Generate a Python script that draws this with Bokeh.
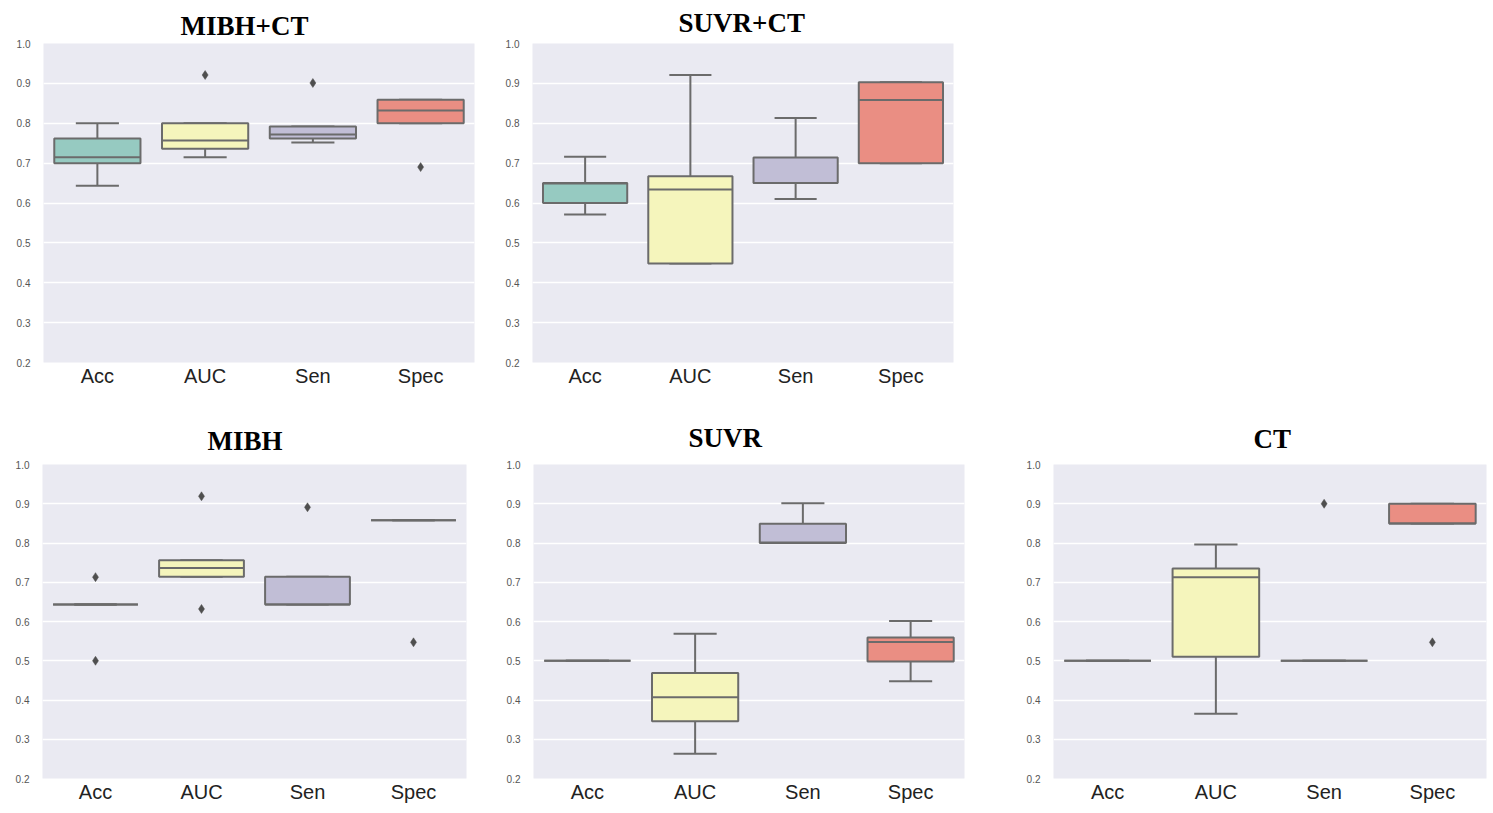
from bokeh.plotting import figure
from bokeh.models import Range1d, FactorRange, FixedTicker, ColumnDataSource, Title
from bokeh.transform import dodge
from bokeh.layouts import column, row
from bokeh.embed import file_html
from bokeh.resources import INLINE

categories = ["Acc", "AUC", "Sen", "Spec"]
box_colors = ["#96CAC1", "#F5F5BC", "#C1BED6", "#EA8E83"]
y_ticks = [0.2, 0.3, 0.4, 0.5, 0.6, 0.7, 0.8, 0.9, 1.0]

# MIBH+CT
mibhct_low = [0.643, 0.715, 0.752, 0.800]
mibhct_q1 = [0.700, 0.736, 0.762, 0.800]
mibhct_med = [0.715, 0.757, 0.772, 0.832]
mibhct_q3 = [0.762, 0.800, 0.792, 0.859]
mibhct_high = [0.800, 0.800, 0.792, 0.859]
mibhct_out_cat = ["AUC", "Sen", "Spec"]
mibhct_out_val = [0.921, 0.901, 0.690]

# SUVR+CT
suvrct_low = [0.571, 0.448, 0.610, 0.700]
suvrct_q1 = [0.600, 0.448, 0.650, 0.700]
suvrct_med = [0.649, 0.634, 0.650, 0.858]
suvrct_q3 = [0.650, 0.667, 0.714, 0.903]
suvrct_high = [0.716, 0.921, 0.813, 0.903]
suvrct_out_cat = []
suvrct_out_val = []

# MIBH
mibh_low = [0.643, 0.714, 0.643, 0.858]
mibh_q1 = [0.643, 0.714, 0.643, 0.858]
mibh_med = [0.643, 0.736, 0.643, 0.858]
mibh_q3 = [0.643, 0.756, 0.714, 0.858]
mibh_high = [0.643, 0.756, 0.714, 0.858]
mibh_out_cat = ["Acc", "Acc", "AUC", "AUC", "Sen", "Spec"]
mibh_out_val = [0.713, 0.500, 0.919, 0.632, 0.891, 0.547]

# SUVR
suvr_low = [0.500, 0.263, 0.800, 0.448]
suvr_q1 = [0.500, 0.346, 0.800, 0.498]
suvr_med = [0.500, 0.407, 0.801, 0.548]
suvr_q3 = [0.500, 0.469, 0.849, 0.559]
suvr_high = [0.500, 0.569, 0.901, 0.601]
suvr_out_cat = []
suvr_out_val = []

# CT
ct_low = [0.500, 0.365, 0.500, 0.850]
ct_q1 = [0.500, 0.510, 0.500, 0.850]
ct_med = [0.500, 0.713, 0.500, 0.850]
ct_q3 = [0.500, 0.735, 0.500, 0.900]
ct_high = [0.500, 0.796, 0.500, 0.900]
ct_out_cat = ["Sen", "Spec"]
ct_out_val = [0.900, 0.547]

LINE = "#6b6b6b"


def make_panel(title, low, q1, med, q3, high, out_cat, out_val,
               width, height, bl, br, bt, bb, title_offset, title_standoff):
    p = figure(x_range=FactorRange(factors=categories, range_padding=0),
               y_range=Range1d(0.2, 1.0),
               width=width, height=height,
               min_border_left=bl, min_border_right=br,
               min_border_top=bt, min_border_bottom=bb,
               output_backend="svg", toolbar_location=None)
    p.background_fill_color = "#EAEAF2"
    p.border_fill_color = "white"
    p.outline_line_color = None
    p.xgrid.grid_line_color = None
    p.ygrid.grid_line_color = "white"
    p.ygrid.grid_line_width = 1.3
    p.yaxis.ticker = FixedTicker(ticks=y_ticks)
    p.yaxis.major_label_overrides = {t: "%.1f" % t for t in y_ticks}
    for ax in (p.xaxis, p.yaxis):
        ax.axis_line_color = None
        ax.major_tick_line_color = None
        ax.minor_tick_line_color = None
        ax.major_tick_out = 0
        ax.major_tick_in = 0
    p.yaxis.major_label_text_font = "Liberation Sans"
    p.yaxis.major_label_text_font_size = "10px"
    p.yaxis.major_label_text_color = "#555555"
    p.yaxis.major_label_standoff = 13
    p.xaxis.major_label_text_font = "Liberation Sans"
    p.xaxis.major_label_text_font_size = "20px"
    p.xaxis.major_label_text_color = "#222222"
    p.xaxis.major_label_standoff = 2

    p.title = Title(text=title, align="left", offset=title_offset,
                    standoff=title_standoff, text_font="Liberation Serif",
                    text_font_size="27px", text_font_style="bold",
                    text_color="black")

    src = ColumnDataSource(dict(cat=categories, low=low, q1=q1, med=med,
                                q3=q3, high=high, color=box_colors))
    # whiskers
    p.segment(x0="cat", y0="q3", x1="cat", y1="high", source=src,
              line_color=LINE, line_width=2)
    p.segment(x0="cat", y0="q1", x1="cat", y1="low", source=src,
              line_color=LINE, line_width=2)
    # caps
    p.segment(x0=dodge("cat", -0.2, range=p.x_range), y0="high",
              x1=dodge("cat", 0.2, range=p.x_range), y1="high", source=src,
              line_color=LINE, line_width=2)
    p.segment(x0=dodge("cat", -0.2, range=p.x_range), y0="low",
              x1=dodge("cat", 0.2, range=p.x_range), y1="low", source=src,
              line_color=LINE, line_width=2)
    # boxes
    p.vbar(x="cat", width=0.8, bottom="q1", top="q3", source=src,
           fill_color="color", line_color=LINE, line_width=2)
    # medians
    p.segment(x0=dodge("cat", -0.4, range=p.x_range), y0="med",
              x1=dodge("cat", 0.4, range=p.x_range), y1="med", source=src,
              line_color=LINE, line_width=2)
    # fliers
    if out_cat:
        osrc = ColumnDataSource(dict(cat=out_cat, val=out_val))
        p.scatter(x="cat", y="val", source=osrc, marker="diamond", size=9,
                  fill_color="#4f4f4f", line_color="#4f4f4f", line_width=0.5)
    return p


p1 = make_panel("MIBH+CT", mibhct_low, mibhct_q1, mibhct_med, mibhct_q3,
                mibhct_high, mibhct_out_cat, mibhct_out_val,
                490, 395, 43, 16, 42, 33, 137, 6)
p2 = make_panel("SUVR+CT", suvrct_low, suvrct_q1, suvrct_med, suvrct_q3,
                suvrct_high, suvrct_out_cat, suvrct_out_val,
                480, 395, 42, 17, 43, 33, 146, 11)
p3 = make_panel("MIBH", mibh_low, mibh_q1, mibh_med, mibh_q3, mibh_high,
                mibh_out_cat, mibh_out_val,
                480, 418, 42, 14, 68, 35, 165, 18)
p4 = make_panel("SUVR", suvr_low, suvr_q1, suvr_med, suvr_q3, suvr_high,
                suvr_out_cat, suvr_out_val,
                510, 418, 53, 26, 68, 30, 155, 24)
p5 = make_panel("CT", ct_low, ct_q1, ct_med, ct_q3, ct_high,
                ct_out_cat, ct_out_val,
                502, 418, 63, 6, 69, 28, 200, 22)

layout = column(row(p1, p2), row(p3, p4, p5))

open("out.html", "w").write(file_html(layout, INLINE))
